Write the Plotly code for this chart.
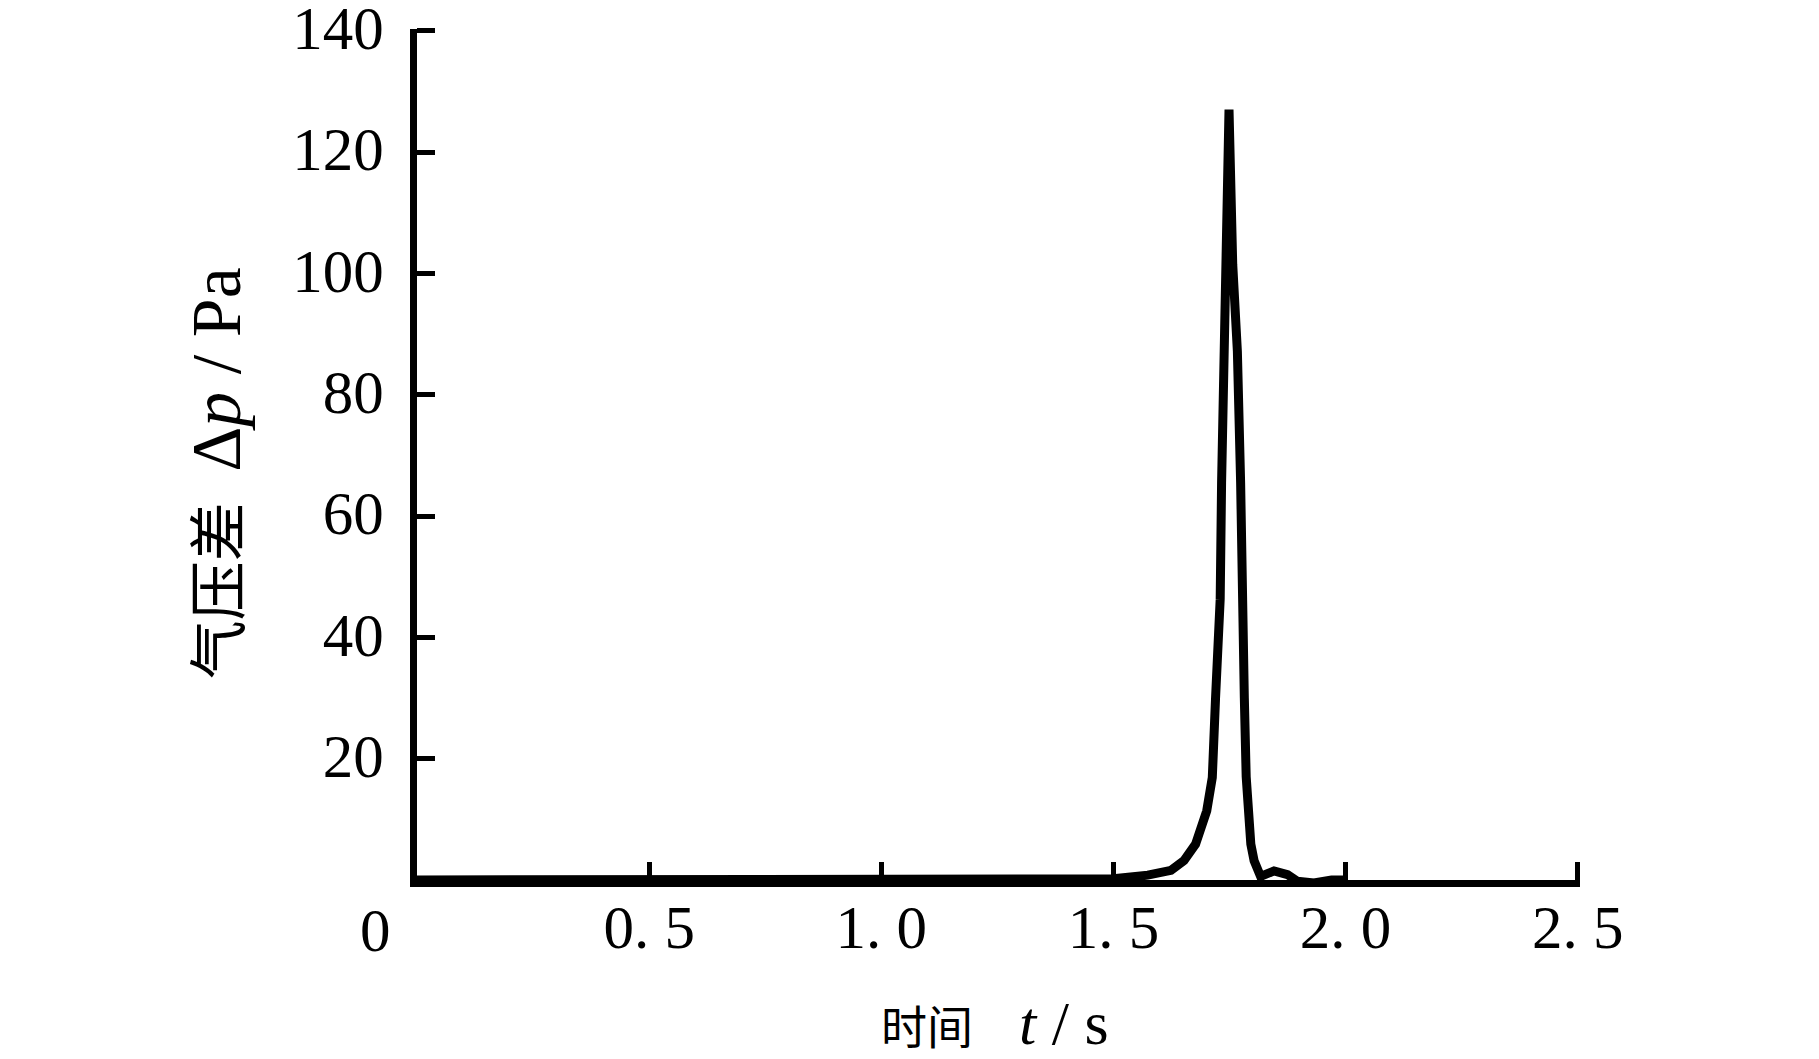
import plotly.graph_objects as go

# Data
time_s = [0.0, 1.500, 1.574, 1.624, 1.652, 1.677, 1.701, 1.706, 1.713, 1.720, 1.727,
          1.730, 1.733, 1.738, 1.744, 1.749, 1.757, 1.767, 1.774, 1.776, 1.778,
          1.782, 1.786, 1.790, 1.796, 1.803, 1.817, 1.846, 1.875, 1.896, 1.932,
          1.970, 2.000]
pressure_pa = [0.0, 0.2, 0.8, 1.6, 3.2, 5.9, 11.4, 14.1, 16.9, 30.0, 43.5,
               46.3, 65.5, 87.2, 101.5, 127.0, 101.5, 87.2, 65.5, 46.3, 43.5,
               30.0, 17.0, 11.4, 5.9, 3.2, 0.6, 1.5, 0.9, -0.2, -0.5,
               0.0, 0.0]

x_tickvals = [0.5, 1.0, 1.5, 2.0, 2.5]
x_ticktext = ["0. 5", "1. 0", "1. 5", "2. 0", "2. 5"]
y_tickvals = [20, 40, 60, 80, 100, 120, 140]
y_ticktext = ["20", "40", "60", "80", "100", "120", "140"]

FONT = "Liberation Serif, Noto Sans CJK SC, serif"
FS = 61
NB = "\u00a0"

x_title = ('<span style="font-family:Noto Sans CJK SC">时间</span>'
           + NB * 4 + '<span style="font-size:62px"><i>t</i>' + NB + "/" + NB + "s</span>")
y_title = ('<span style="font-family:Noto Sans CJK SC;font-size:59px">气压差</span>'
           + NB * 2 + '<span style="font-size:70px">Δ<i>p</i>' + NB + "/" + NB + "Pa</span>")

fig = go.Figure()
fig.add_trace(go.Scatter(
    x=time_s, y=pressure_pa, mode="lines",
    line=dict(color="black", width=9),
    showlegend=False, hoverinfo="skip",
))

fig.update_layout(
    width=1819, height=1059,
    margin=dict(l=417, r=239, t=29, b=179),
    paper_bgcolor="white", plot_bgcolor="white",
    font=dict(family=FONT, size=FS, color="black"),
    showlegend=False,
    xaxis=dict(
        range=[0, 2.505], tickvals=x_tickvals, ticktext=x_ticktext,
        showline=True, linecolor="black", linewidth=7,
        ticks="inside", ticklen=18, tickwidth=5, tickcolor="black",
        showgrid=False, zeroline=False, automargin=False,
        ticklabelstandoff=-12, ticklabeloverflow="allow",
        tickfont=dict(family=FONT, size=FS, color="black"),
    ),
    yaxis=dict(
        range=[0, 140.3], tickvals=y_tickvals, ticktext=y_ticktext,
        showline=True, linecolor="black", linewidth=7,
        ticks="inside", ticklen=18, tickwidth=5, tickcolor="black",
        showgrid=False, zeroline=False, automargin=False,
        ticklabelstandoff=14, ticklabelshift=-3, ticklabeloverflow="allow",
        tickfont=dict(family=FONT, size=FS, color="black"),
    ),
    annotations=[
        dict(x=0, y=0, xref="x", yref="y", text="0", showarrow=False,
             xshift=-42, yshift=-50,
             font=dict(family=FONT, size=FS, color="black")),
        dict(x=0.497, y=-0.168, xref="paper", yref="paper", text=x_title,
             showarrow=False, xanchor="center", yanchor="middle",
             font=dict(family=FONT, size=46, color="black")),
        dict(x=-0.1746, y=0.478, xref="paper", yref="paper", text=y_title,
             showarrow=False, xanchor="center", yanchor="middle", textangle=-90,
             font=dict(family=FONT, size=FS, color="black")),
    ],
)

fig.write_html(
    "out.html",
    config={"displayModeBar": False},
    post_script="document.body.style.margin='0';document.body.style.overflow='hidden';",
)
